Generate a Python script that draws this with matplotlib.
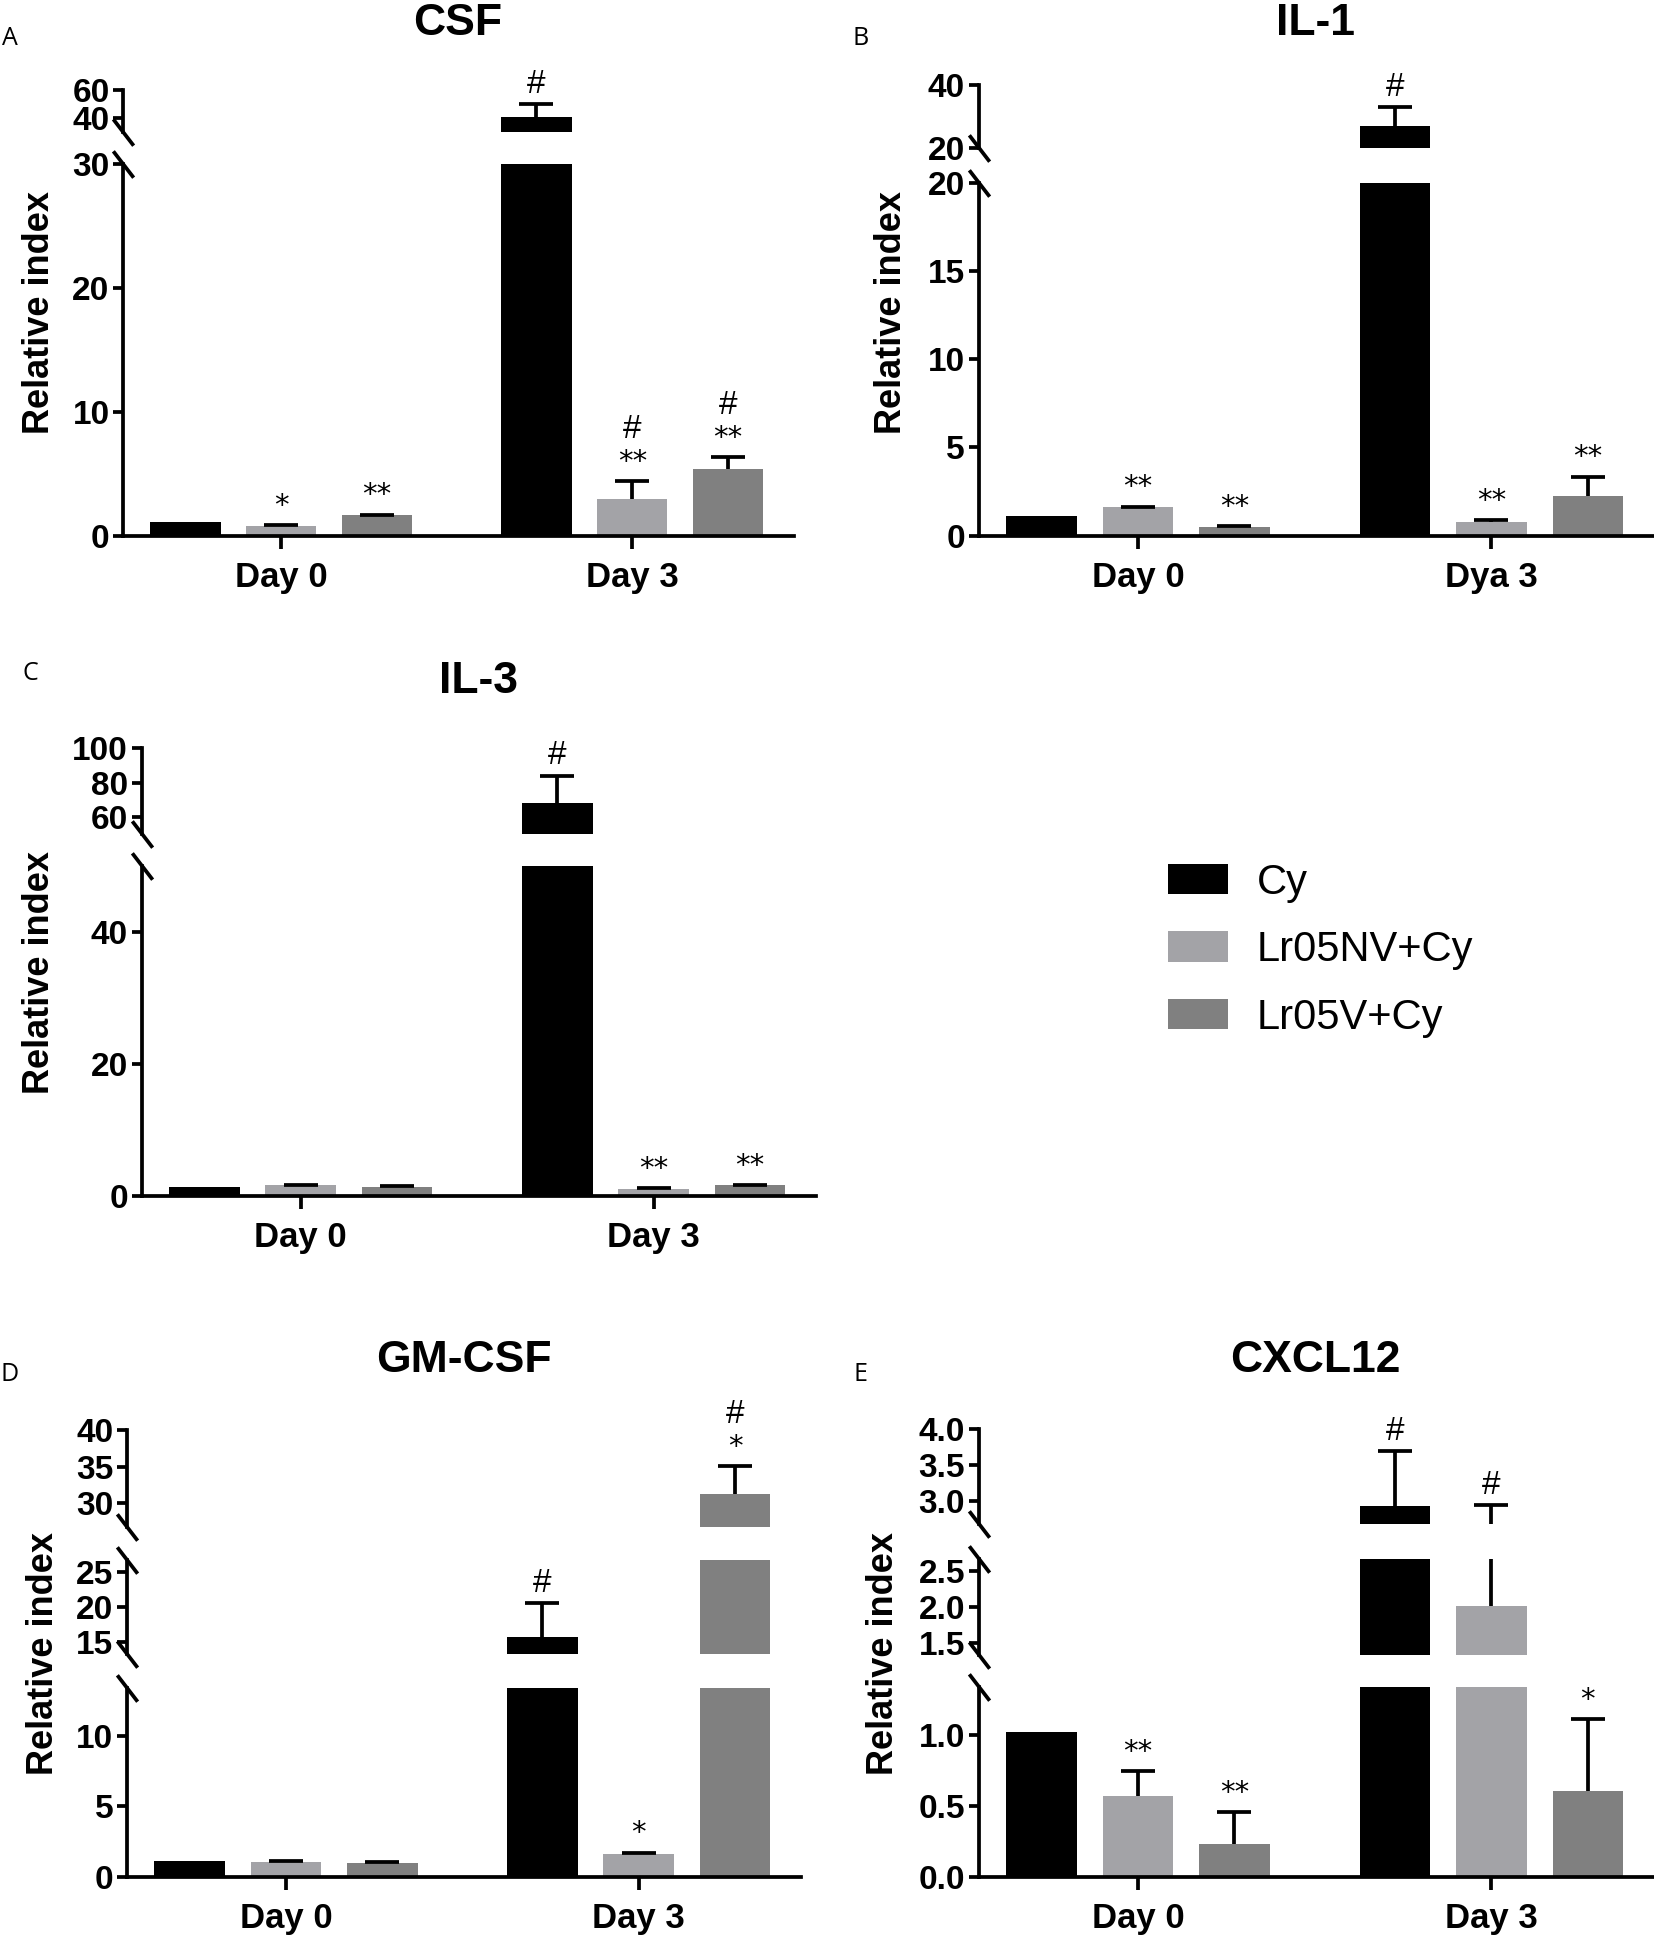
import matplotlib
matplotlib.use('Agg')
import matplotlib.pyplot as plt
import numpy as np
from matplotlib.patches import Patch
from matplotlib.font_manager import FontProperties

# ---------------- data ----------------
groups = ['Cy', 'Lr05NV+Cy', 'Lr05V+Cy']
days = ['Day 0', 'Day 3']
days_il1 = ['Day 0', 'Dya 3']

# rows = groups (Cy, Lr05NV+Cy, Lr05V+Cy), columns = days
csf_means = [[1.1, 41.0], [0.75, 3.0], [1.65, 5.4]]
csf_sds = [[0.0, 9.0], [0.1, 1.4], [0.05, 0.95]]
csf_marks = [[[], ['#']], [['*'], ['**', '#']], [['**'], ['**', '#']]]

il1_means = [[1.1, 27.0], [1.6, 0.8], [0.5, 2.25]]
il1_sds = [[0.0, 6.0], [0.05, 0.1], [0.05, 1.1]]
il1_marks = [[[], ['#']], [['**'], ['**']], [['**'], ['**']]]

il3_means = [[1.3, 68.0], [1.6, 1.05], [1.35, 1.6]]
il3_sds = [[0.0, 16.0], [0.1, 0.1], [0.1, 0.1]]
il3_marks = [[[], ['#']], [[], ['**']], [[], ['**']]]

gmcsf_means = [[1.15, 15.7], [1.07, 1.63], [1.0, 31.2]]
gmcsf_sds = [[0.0, 4.8], [0.05, 0.12], [0.05, 3.9]]
gmcsf_marks = [[[], ['#']], [[], ['*']], [[], ['*', '#']]]

cxcl12_means = [[1.02, 2.92], [0.573, 2.02], [0.23, 0.608]]
cxcl12_sds = [[0.0, 0.78], [0.17, 0.92], [0.23, 0.5]]
cxcl12_marks = [[[], ['#']], [['**'], ['#']], [['**'], ['*']]]

colors = ['#000000', '#a3a3a7', '#808080']

# ---------------- figure ----------------
W, H, DPI = 1654, 1939, 100
fig = plt.figure(figsize=(W / DPI, H / DPI), dpi=DPI)
WD, HD = 1340.0, 1571.0  # reference layout units

BOLDFAM = ['Liberation Sans Narrow', 'Liberation Sans']
tickfp = FontProperties(family=BOLDFAM, weight='bold', size=24)
dayfp = FontProperties(family=BOLDFAM, weight='bold', size=25)
titlefp = FontProperties(family=BOLDFAM, weight='bold', size=32)
hashfp = FontProperties(family=['Liberation Sans'], size=24)
starfp = FontProperties(family=['DejaVu Sans'], size=21)
LW = 2.7

panels = [
    dict(title='CSF', letter='A', means=csf_means, sds=csf_sds, marks=csf_marks, days=days,
         x=(100, 643), segs=[((0, 30), (434, 133), [0, 10, 20, 30]),
                             ((30, 60), (107, 73), [40, 60])],
         ylab=(32, 253), tpos=(371, 19), lpos=(8, 31), fmt='{:g}'),
    dict(title='IL-1', letter='B', means=il1_means, sds=il1_sds, marks=il1_marks, days=days_il1,
         x=(793, 1340), segs=[((0, 20), (434, 148), [0, 5, 10, 15, 20]),
                              ((20, 40), (120, 69), [20, 40])],
         ylab=(722, 253), tpos=(1066, 19), lpos=(697, 31), fmt='{:g}'),
    dict(title='IL-3', letter='C', means=il3_means, sds=il3_sds, marks=il3_marks, days=days,
         x=(115, 661), segs=[((0, 50), (969, 702), [0, 20, 40]),
                             ((50, 100), (676, 606), [60, 80, 100])],
         ylab=(32, 788), tpos=(388, 552), lpos=(25, 546), fmt='{:g}'),
    dict(title='GM-CSF', letter='D', means=gmcsf_means, sds=gmcsf_sds, marks=gmcsf_marks, days=days,
         x=(103, 649), segs=[((0, 40 / 3), (1521, 1368), [0, 5, 10]),
                             ((40 / 3, 80 / 3), (1340, 1264), [15, 20, 25]),
                             ((80 / 3, 40), (1237, 1159), [30, 35, 40])],
         ylab=(35, 1340), tpos=(376, 1102), lpos=(8, 1114), fmt='{:g}'),
    dict(title='CXCL12', letter='E', means=cxcl12_means, sds=cxcl12_sds, marks=cxcl12_marks, days=days,
         x=(793, 1340), segs=[((0, 4 / 3), (1521, 1367), [0.0, 0.5, 1.0]),
                              ((4 / 3, 8 / 3), (1341, 1263), [1.5, 2.0, 2.5]),
                              ((8 / 3, 4.0), (1235, 1158), [3.0, 3.5, 4.0])],
         ylab=(716, 1340), tpos=(1066, 1102), lpos=(697, 1114), fmt='{:.1f}'),
]

offs = np.array([-0.273, 0.0, 0.273])
xc = np.arange(len(days))
brk = dict(marker=[(-1, 1.3), (1, -1.3)], markersize=19, linestyle='none',
           color='k', mec='k', mew=LW, clip_on=False)

for p in panels:
    x0, x1 = p['x']
    axes = []
    nseg = len(p['segs'])
    for i, ((lo, hi), (yb, yt), ticks) in enumerate(p['segs']):
        ax = fig.add_axes([x0 / WD, 1 - yb / HD, (x1 - x0) / WD, (yb - yt) / HD])
        ax.patch.set_alpha(0)
        for g in range(3):
            m = np.array(p['means'][g], dtype=float)
            s = np.array(p['sds'][g], dtype=float)
            ax.bar(xc + offs[g], m, width=0.2, color=colors[g], zorder=2)
            mask = s > 0
            if mask.any():
                eb = ax.errorbar((xc + offs[g])[mask], m[mask],
                                 yerr=[np.zeros(mask.sum()), s[mask]], fmt='none',
                                 ecolor='black', elinewidth=LW, capsize=12,
                                 capthick=LW, zorder=3)
                eb[1][0].set_visible(False)
        ax.set_xlim(-0.45, 1.46)
        ax.set_ylim(lo, hi)
        for sp in ['top', 'right']:
            ax.spines[sp].set_visible(False)
        ax.spines['left'].set_linewidth(LW)
        if i == 0:
            ax.spines['bottom'].set_linewidth(LW)
            ax.set_xticks(xc)
            ax.set_xticklabels(p['days'], fontproperties=dayfp)
            ax.tick_params(axis='x', length=9, width=LW, pad=9)
        else:
            ax.spines['bottom'].set_visible(False)
            ax.tick_params(axis='x', bottom=False, labelbottom=False)
        ax.set_yticks(ticks)
        ax.set_yticklabels([p['fmt'].format(t) for t in ticks], fontproperties=tickfp)
        ax.tick_params(axis='y', length=7, width=LW, pad=3)
        if i < nseg - 1:
            ax.plot([0], [1], transform=ax.transAxes, **brk)
        if i > 0:
            ax.plot([0], [0], transform=ax.transAxes, **brk)
        axes.append(ax)

    # significance marks above the error bars
    for g in range(3):
        for d in range(len(days)):
            marks = p['marks'][g][d]
            if not marks:
                continue
            top = p['means'][g][d] + p['sds'][g][d]
            seg = 0
            for i, ((lo, hi), _, _) in enumerate(p['segs']):
                if top >= lo:
                    seg = i
            ax = axes[seg]
            for k, mk in enumerate(marks):
                fp = starfp if '*' in mk else hashfp
                ax.annotate(mk, xy=(xc[d] + offs[g], top), xytext=(0, 8 + 23 * k),
                            textcoords='offset points', ha='center', va='baseline',
                            fontproperties=fp, annotation_clip=False)

    fig.text(p['ylab'][0] / WD, 1 - p['ylab'][1] / HD, 'Relative index', rotation=90,
             ha='center', va='center', fontsize=26, fontweight='bold', family='Liberation Sans')
    fig.text(p['tpos'][0] / WD, 1 - p['tpos'][1] / HD, p['title'], ha='center', va='center',
             fontproperties=titlefp)
    fig.text(p['lpos'][0] / WD, 1 - p['lpos'][1] / HD, p['letter'], ha='center', va='center',
             fontsize=18, family=['Open Sans', 'DejaVu Sans'])

handles = [Patch(facecolor=c, edgecolor='none') for c in colors]
fig.legend(handles, groups, loc='upper left', bbox_to_anchor=(946 / WD, 1 - 699 / HD),
           frameon=False, prop=FontProperties(family='Liberation Sans', size=30),
           handlelength=1.45, handleheight=0.75, handletextpad=0.68, labelspacing=0.66,
           borderpad=0, borderaxespad=0)

fig.savefig('out.png', dpi=DPI)
